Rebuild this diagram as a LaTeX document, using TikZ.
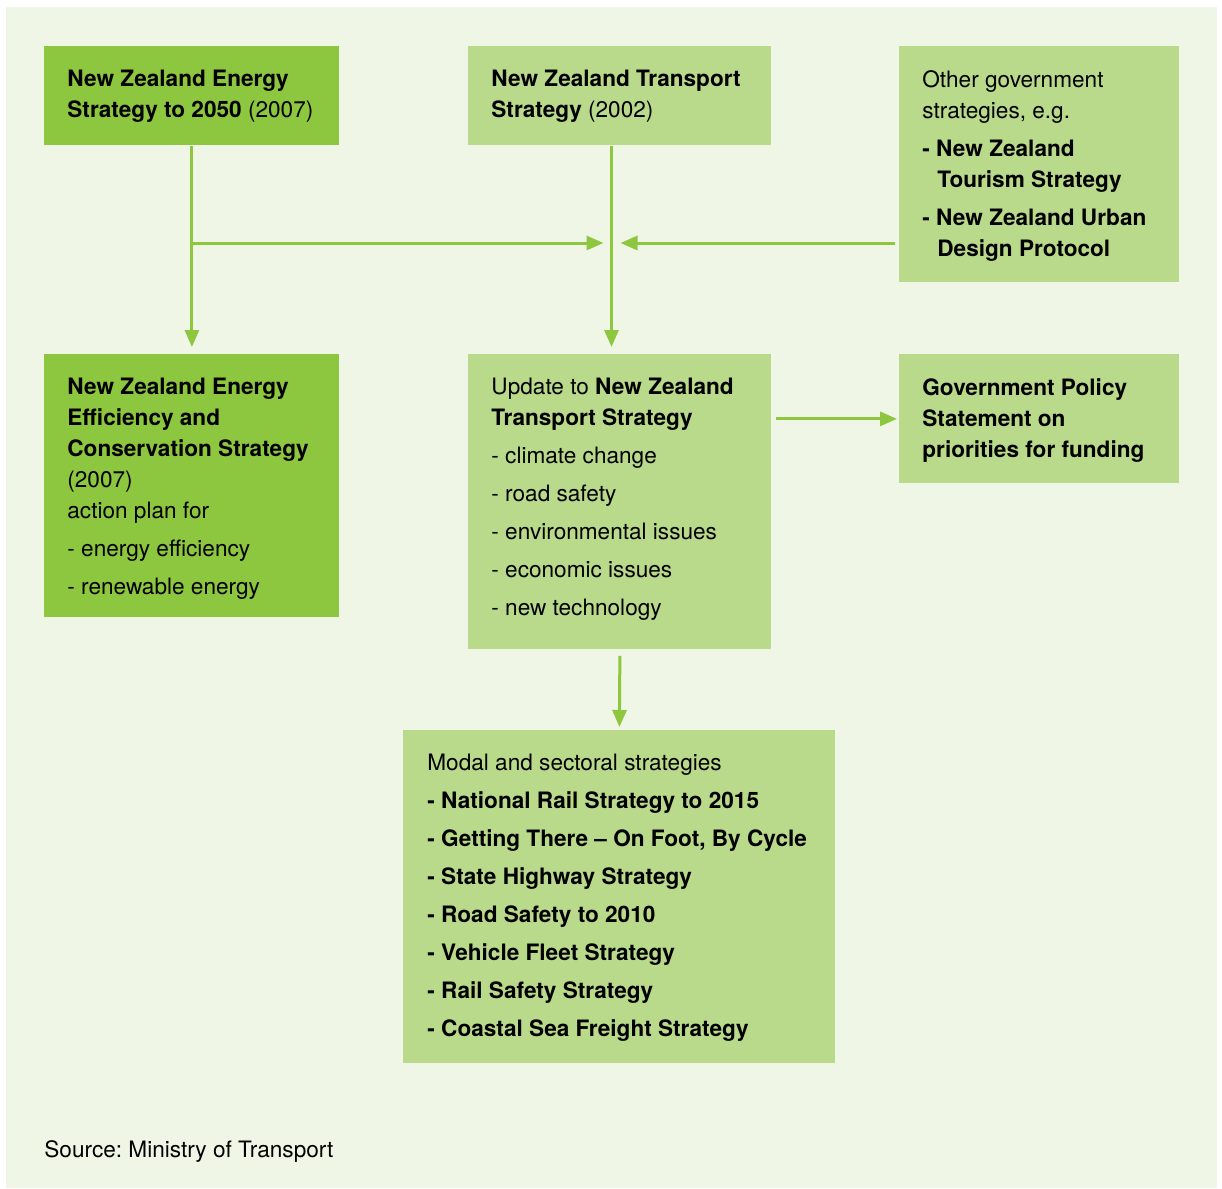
\documentclass[tikz,border=0pt]{standalone}
\usepackage{fontspec}
\setmainfont{TeX Gyre Heros}
\usetikzlibrary{arrows.meta, positioning}
\definecolor{bgpale}{HTML}{EFF6E6}
\definecolor{leafdark}{HTML}{8DC63F}
\definecolor{leaflight}{HTML}{B9D98B}
\frenchspacing
\tikzset{
  darkbox/.style={fill=leafdark, anchor=north west, inner sep=0pt},
  lightbox/.style={fill=leaflight, anchor=north west, inner sep=0pt},
  boxtext/.style={anchor=north west, align=left, inner sep=0pt,
    font=\fontsize{11.3}{15.5}\selectfont},
  flow/.style={draw=leafdark, line width=1.5pt,
    -{Triangle[length=8.5pt,width=7pt]}},
}
\begin{document}
\begin{tikzpicture}[x=0.5pt, y=-0.5pt]
\useasboundingbox (0,0) rectangle (1222,1189);
\fill[bgpale] (6,7) rectangle (1217,1188);

% top row
\node[darkbox, minimum width=147.5pt, minimum height=49.5pt] (energy) at (44,46) {};
\node[boxtext] (energy-txt) at ([shift={(23,24)}]energy.north west)
  {\textbf{New Zealand Energy}\\ \textbf{Strategy to 2050} (2007)};

\node[lightbox, minimum width=151.5pt, minimum height=49.5pt] (transport) at (468,46) {};
\node[boxtext] (transport-txt) at ([shift={(23,24)}]transport.north west)
  {\textbf{New Zealand Transport}\\ \textbf{Strategy} (2002)};

\node[lightbox, minimum width=140pt, minimum height=118pt] (other) at (899,46) {};
\node[boxtext] (other-txt) at ([shift={(23,24)}]other.north west)
  {Other government\\ strategies, e.g.\\[3.5pt]
   \textbf{- New Zealand}\\ \hspace*{7.5pt}\textbf{Tourism Strategy}\\[3.5pt]
   \textbf{- New Zealand Urban}\\ \hspace*{7.5pt}\textbf{Design Protocol}};

% middle row
\node[darkbox, minimum width=147.5pt, minimum height=131.5pt] (effic) at (44,354) {};
\node[boxtext] (effic-txt) at ([shift={(23,24)}]effic.north west)
  {\textbf{New Zealand Energy}\\ \textbf{Efficiency and}\\ \textbf{Conservation Strategy}\\
   (2007)\\ action plan for\\[3.5pt]
   - energy efficiency\\[3.5pt] - renewable energy};

\node[lightbox, minimum width=151.5pt, minimum height=147.5pt] (update) at (468,354) {};
\node[boxtext] (update-txt) at ([shift={(23,24)}]update.north west)
  {Update to \textbf{New Zealand}\\ \textbf{Transport Strategy}\\[3.5pt]
   - climate change\\[3.5pt] - road safety\\[3.5pt] - environmental issues\\[3.5pt]
   - economic issues\\[3.5pt] - new technology};

\node[lightbox, minimum width=140pt, minimum height=64.5pt] (gps) at (899,354) {};
\node[boxtext] (gps-txt) at ([shift={(23,24)}]gps.north west)
  {\textbf{Government Policy}\\ \textbf{Statement on}\\ \textbf{priorities for funding}};

% bottom box
\node[lightbox, minimum width=216pt, minimum height=166.5pt] (modal) at (403,730) {};
\node[boxtext] (modal-txt) at ([shift={(24,24)}]modal.north west)
  {Modal and sectoral strategies\\[3.5pt]
   \textbf{- National Rail Strategy to 2015}\\[3.5pt]
   \textbf{- Getting There -- On Foot, By Cycle}\\[3.5pt]
   \textbf{- State Highway Strategy}\\[3.5pt]
   \textbf{- Road Safety to 2010}\\[3.5pt]
   \textbf{- Vehicle Fleet Strategy}\\[3.5pt]
   \textbf{- Rail Safety Strategy}\\[3.5pt]
   \textbf{- Coastal Sea Freight Strategy}};

\node[boxtext, anchor=base west] (source) at (44,1157) {Source: Ministry of Transport};

% connectors
\coordinate (hub) at (611.5,243);
\draw[flow, shorten >=3.5pt] (energy.south) -- (effic.north);
\draw[flow] (energy.south |- hub) -- ([shift={(-8,0)}]hub);
\draw[flow, shorten <=2pt] (other.west |- hub) -- ([shift={(9,0)}]hub);
\draw[flow, shorten >=3.5pt] (transport.south -| hub) -- (update.north -| hub);
\draw[flow, shorten <=2pt, shorten >=1pt] (update.east |- gps.west) -- (gps.west);
\draw[flow, shorten <=3pt, shorten >=1.5pt] (update.south) -- (modal.north);
\end{tikzpicture}
\end{document}
